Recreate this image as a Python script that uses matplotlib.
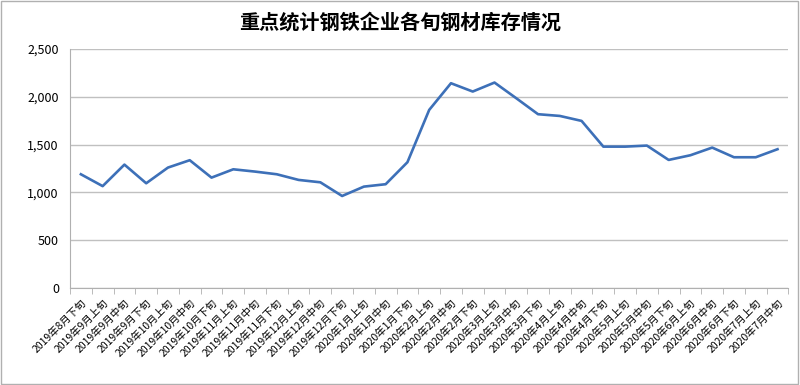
import numpy as np
import matplotlib
matplotlib.use('Agg')
import matplotlib.pyplot as plt
from matplotlib.patches import Rectangle
from matplotlib.ticker import FuncFormatter

plt.rcParams['font.family'] = ['Noto Sans CJK SC', 'DejaVu Sans']

periods = ['2019年8月下旬', '2019年9月上旬', '2019年9月中旬', '2019年9月下旬',
           '2019年10月上旬', '2019年10月中旬', '2019年10月下旬', '2019年11月上旬',
           '2019年11月中旬', '2019年11月下旬', '2019年12月上旬', '2019年12月中旬',
           '2019年12月下旬', '2020年1月上旬', '2020年1月中旬', '2020年1月下旬',
           '2020年2月上旬', '2020年2月中旬', '2020年2月下旬', '2020年3月上旬',
           '2020年3月中旬', '2020年3月下旬', '2020年4月上旬', '2020年4月中旬',
           '2020年4月下旬', '2020年5月上旬', '2020年5月中旬', '2020年5月下旬',
           '2020年6月上旬', '2020年6月中旬', '2020年6月下旬', '2020年7月上旬',
           '2020年7月中旬']
stock = [1189, 1065, 1290, 1095, 1259, 1336, 1154, 1241, 1217, 1189, 1130, 1105,
         962, 1060, 1085, 1315, 1862, 2141, 2054, 2148, 1984, 1817, 1799, 1747,
         1478, 1478, 1489, 1339, 1388, 1468, 1367, 1367, 1451]

fig = plt.figure(figsize=(8, 3.85), dpi=100)
ax = fig.add_axes([0.0875, 0.252, 0.898, 0.621])

x = np.arange(len(periods))
ax.plot(x, stock, color='#3d70b8', lw=1.9)

ax.set_xlim(-0.5, len(periods) - 0.5)
ax.set_ylim(0, 2500)
ax.set_yticks(np.arange(0, 2501, 500))
ax.yaxis.set_major_formatter(FuncFormatter(lambda v, p: '{:,.0f}'.format(v)))
ax.grid(axis='y', color='#c0c0c0', lw=1)
ax.set_axisbelow(True)

ax.set_xticks(x)
ax.set_xticklabels(periods, rotation=45, ha='right', rotation_mode='anchor', fontsize=7.5)
ax.set_xticks(np.arange(-0.5, len(periods)), minor=True)
ax.tick_params(axis='x', which='major', length=0, pad=7)
ax.tick_params(axis='x', which='minor', length=4, color='#b0b0b0')
ax.tick_params(axis='y', length=0, labelsize=9, pad=8)

for s in ['top', 'right']:
    ax.spines[s].set_visible(False)
for s in ['left', 'bottom']:
    ax.spines[s].set_color('#b0b0b0')

fig.text(0.5, 0.942, '重点统计钢铁企业各旬钢材库存情况', ha='center', va='center',
         fontsize=14.5, fontweight='bold')

fig.patches.append(Rectangle((0.001, 0.002), 0.997, 0.995, transform=fig.transFigure,
                             fill=False, edgecolor='#b0b0b0', lw=1))

fig.savefig('out.png', dpi=100)
